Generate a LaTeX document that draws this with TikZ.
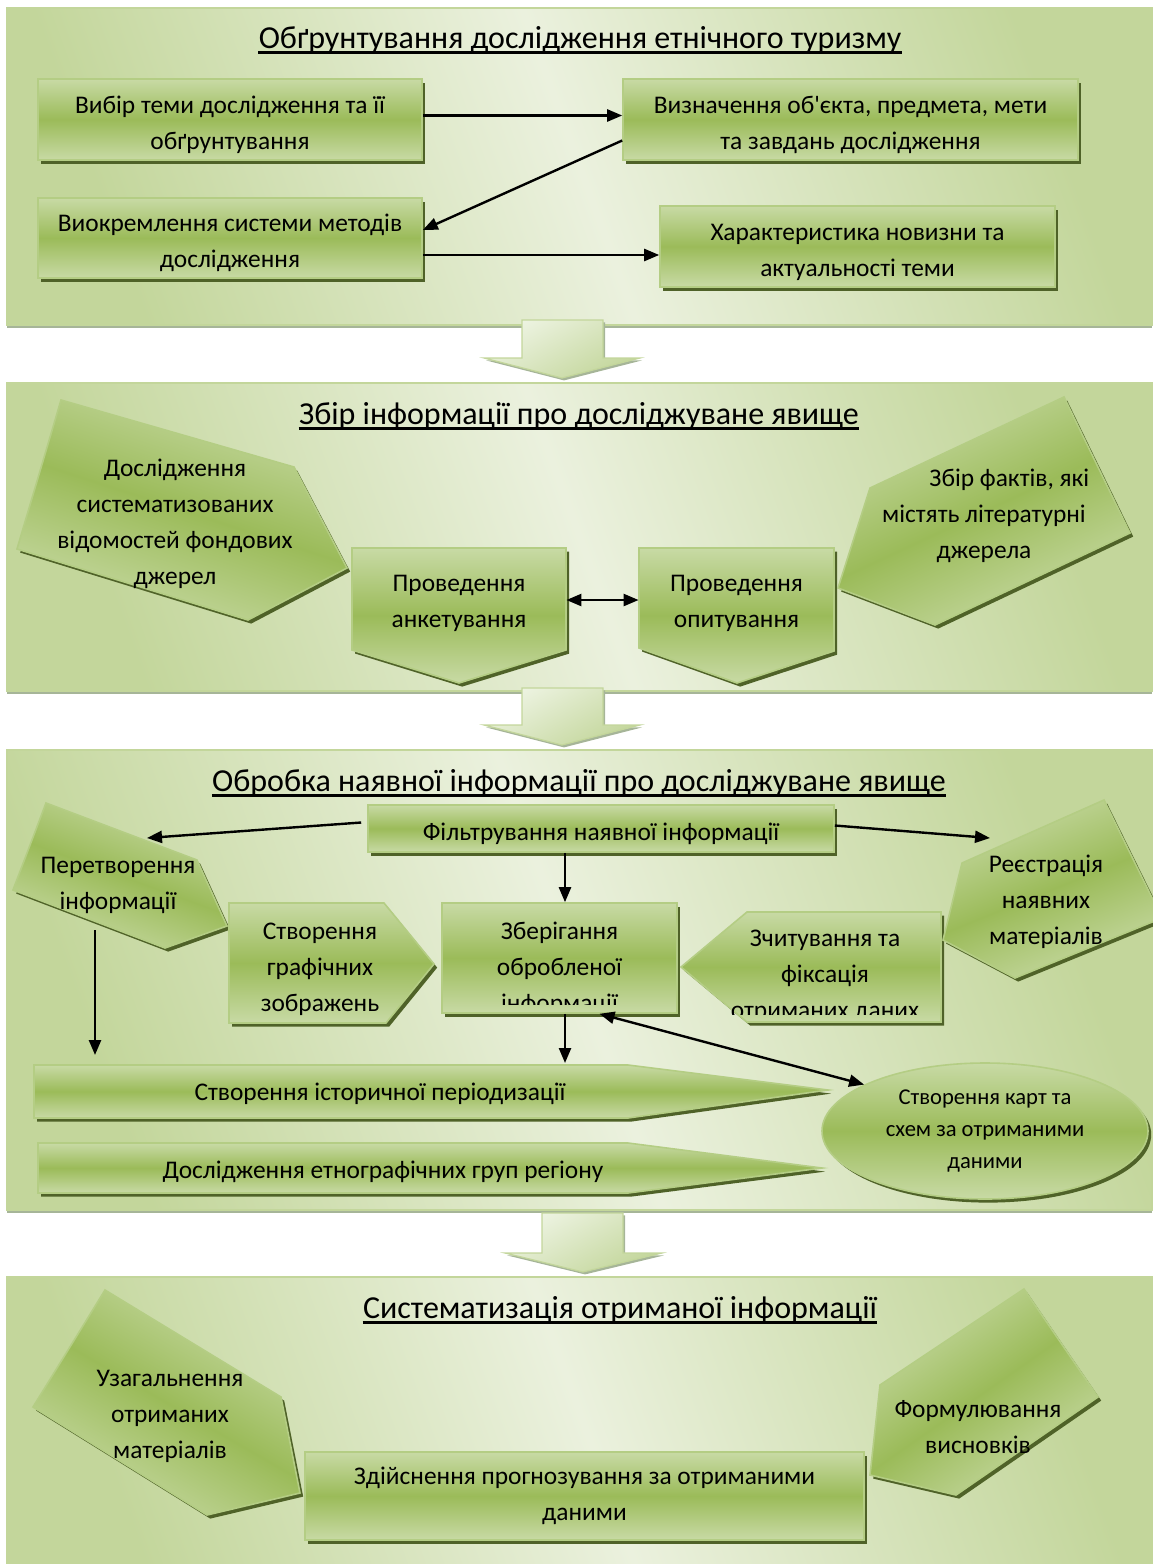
\documentclass[tikz,border=0pt]{standalone}
\usepackage{fontspec}
\setmainfont{Carlito}
\newfontfamily\plainfont{Carlito}[Ligatures=TeXOff]
\usetikzlibrary{arrows.meta}
\usetikzlibrary{shadows}
\usetikzlibrary{shapes.geometric}
\definecolor{gtop}{HTML}{C8DAA5}
\definecolor{gmid}{HTML}{9BBB59}
\definecolor{gline}{HTML}{B4CD84}
\definecolor{gshadow}{HTML}{4F6228}
\definecolor{panelA}{HTML}{C3D69B}
\definecolor{panelB}{HTML}{EBF1DE}
\definecolor{panelshadow}{HTML}{A6B598}
\definecolor{gpale}{HTML}{EEF4E3}
\newcommand\lowr{\rule{0pt}{13.8pt}}
\newcommand\apos{{\plainfont'}}
\tikzset{green box/.style={draw=gline,line width=.8pt,
    top color=gtop,bottom color=gtop,middle color=gmid,shading angle=#1,
    drop shadow={shadow xshift=1.6pt,shadow yshift=-1.8pt,fill=gshadow,opacity=1}},
  green box/.default=0}
\tikzset{panel/.style={draw=panelA,line width=1pt,
    top color=panelA,bottom color=panelA,middle color=panelB,shading angle=-70,
    drop shadow={shadow xshift=0pt,shadow yshift=-1.6pt,fill=panelshadow,opacity=1}}}
\tikzset{step arrow/.style={draw=panelA,line width=.6pt,
    top color=gpale,bottom color=panelA,shading angle=30,
    drop shadow={shadow xshift=1pt,shadow yshift=-1.2pt,fill=panelshadow,opacity=1}}}
\tikzset{box text/.style={align=center,inner sep=0pt,
    font=\fontsize{12.7}{18}\selectfont}}
\tikzset{shape text/.style={box text,yshift=-1.5pt}}
\tikzset{heading/.style={inner sep=0pt,font=\fontsize{16}{18}\selectfont}}
\tikzset{link/.style={line width=1.2pt,-{Triangle[length=7.5pt,width=6pt]}}}
\tikzset{both link/.style={line width=1.2pt,
    {Triangle[length=7.5pt,width=6pt]}-{Triangle[length=7.5pt,width=6pt]}}}

\begin{document}
\begin{tikzpicture}[x=0.5pt,y=-0.5pt]
  \useasboundingbox (0,0) rectangle (1152,1564);
  % panels
  \path[panel] (7,8) rectangle (1152,325);
  \path[panel] (7,383) rectangle (1152,691);
  \path[panel] (7,750) rectangle (1152,1210);
  \path[panel] (7,1277) rectangle (1160,1570);
  % arrows between the stages
  \path[step arrow] (522,320) -- (603,320) -- (603,358) -- (640,358)
    -- (562,378) -- (484,358) -- (522,358) -- cycle;
  \path[step arrow] (522,688) -- (603,688) -- (603,725) -- (640,725)
    -- (562,745) -- (484,725) -- (522,725) -- cycle;
  \path[step arrow] (542,1213) -- (623,1213) -- (623,1253) -- (662,1253)
    -- (583,1272) -- (505,1253) -- (542,1253) -- cycle;

  % stage 1
  \node[heading] (t1) at (580,40) {Обґрунтування дослідження етнічного туризму};
  \draw[line width=1.2pt] ([yshift=-2pt]t1.base west) -- ([yshift=-2pt]t1.base east);
  \node[green box,box text,minimum width=192pt,minimum height=40.5pt] (vybir)
    at (230,119.5) {\lowr Вибір теми дослідження та її\\обґрунтування};
  \node[green box,box text,minimum width=227.5pt,minimum height=40.5pt] (vyzn)
    at (850.5,119.5) {\lowr Визначення об\apos єкта, предмета, мети\\та завдань дослідження};
  \node[green box,box text,minimum width=192pt,minimum height=40pt] (metody)
    at (230,238) {\lowr Виокремлення системи методів\\дослідження};
  \node[green box,box text,minimum width=197.5pt,minimum height=40.5pt] (novyzna)
    at (857.5,246.5) {\lowr Характеристика новизни та\\актуальності теми};
  \draw[link] ([yshift=2pt]vybir.east) -- ([yshift=2pt]vybir.east -| vyzn.west);
  \draw[link] ([yshift=-10.5pt]vyzn.west) -- ([yshift=4pt]metody.east);
  \draw[link] ([yshift=-8.5pt]metody.east) -- ([yshift=-8.5pt]metody.east -| novyzna.west);

  % stage 2
  \node[heading] (t2) at (579,416) {Збір інформації про досліджуване явище};
  \draw[line width=1.2pt] ([yshift=-2pt]t2.base west) -- ([yshift=-2pt]t2.base east);
  \path[green box=-18] (61,400) -- (294,467) -- (347,568) -- (248,620) -- (17,549) -- cycle;
  \node[shape text] (fondy) at (175,521)
    {Дослідження\\систематизованих\\відомостей фондових\\джерел};
  \path[green box] (352,548) -- (566,548) -- (566,650) -- (459,683) -- (352,650) -- cycle;
  \node[shape text,minimum width=107pt] (anketa) at (459,600) {Проведення\\анкетування};
  \path[green box] (639,548) -- (834,548) -- (834,651) -- (737,683) -- (639,648) -- cycle;
  \node[shape text,minimum width=97.5pt] (opytuv) at (736.5,600) {Проведення\\опитування};
  \path[green box=25] (1064,397) -- (1130,533) -- (935,625) -- (838,588) -- (870,488) -- cycle;
  \node[shape text] (fakty) at (984,513) {\hspace*{2em}Збір фактів, які\\містять літературні\\джерела};
  \draw[both link] ([yshift=1.5pt]anketa.east) -- ([yshift=1.5pt]opytuv.west);

  % stage 3
  \node[heading] (t3) at (579,783) {Обробка наявної інформації про досліджуване явище};
  \draw[line width=1.2pt] ([yshift=-2pt]t3.base west) -- ([yshift=-2pt]t3.base east);
  \node[green box,box text,minimum width=233pt,minimum height=23.5pt] (filtr)
    at (601,828.5) {\lowr Фільтрування наявної інформації};
  \path[green box=-20] (46,803) -- (197,860) -- (227,926) -- (165,948) -- (13,890) -- cycle;
  \node[shape text] (peretv) at (118,882) {Перетворення\\інформації};
  \path[green box] (229,903) -- (384,903) -- (434,964) -- (386,1023) -- (229,1023) -- cycle;
  \node[shape text] (grafika) at (320,966) {Створення\\графічних\\зображень};
  \node[green box,minimum width=117.5pt,minimum height=55pt] (zberig) at (559.5,958) {};
  \begin{scope}
    \clip (442,903) rectangle (677,1004);
    \node[shape text] (zberig text) at (559.5,966) {Зберігання\\обробленої\\інформації};
  \end{scope}
  \path[green box] (681,967) -- (747,912) -- (941,912) -- (941,1022) -- (747,1022) -- cycle;
  \begin{scope}
    \clip (681,912) rectangle (941,1014);
    \node[shape text] (zchyt) at (825,973) {Зчитування та\\фіксація\\отриманих даних};
  \end{scope}
  \path[green box=22] (1104,800) -- (1162,918) -- (1015,978) -- (943,940) -- (962,863) -- cycle;
  \node[shape text] (reiestr) at (1046,899) {Реєстрація\\наявних\\матеріалів};
  \path[green box] (34,1065) -- (628,1065) -- (828,1090) -- (628,1118) -- (34,1118) -- cycle;
  \node[shape text] (istor) at (380,1091) {Створення історичної періодизації};
  \path[green box] (38,1143) -- (628,1143) -- (822,1168) -- (628,1193) -- (38,1193) -- cycle;
  \node[shape text] (etno) at (383,1169) {Дослідження етнографічних груп регіону};
  \node[green box,ellipse,align=center,inner sep=0pt,minimum width=163pt,minimum height=68pt,
    font=\fontsize{11.3}{16}\selectfont] (karty) at (985,1131)
    {Створення карт та\\схем за отриманими\\даними};
  \coordinate (peretv in) at (147,838);
  \coordinate (reiestr in) at (990,838);
  \coordinate (peretv out) at (95,930);
  \coordinate (istor top) at (95,1055);
  \coordinate (istor in) at (565,1063);
  \draw[link] ([xshift=-3pt,yshift=3pt]filtr.west) -- (peretv in);
  \draw[link] ([yshift=1.5pt]filtr.east) -- (reiestr in);
  \draw[link] (zberig.north |- filtr.south) ++(2.75pt,0) -- ([xshift=2.75pt]zberig.north);
  \draw[link] (peretv out) -- (istor top);
  \draw[link] (istor in |- zberig.south) -- (istor in);
  \draw[both link] ([xshift=20pt]zberig.south) -- (karty.159);

  % stage 4
  \node[heading] (t4) at (620,1310) {Систематизація отриманої інформації};
  \draw[line width=1.2pt] ([yshift=-2pt]t4.base west) -- ([yshift=-2pt]t4.base east);
  \path[green box=-30] (105,1290) -- (281,1397) -- (300,1493) -- (207,1515) -- (33,1407) -- cycle;
  \node[shape text] (uzag) at (170,1413) {Узагальнення\\отриманих\\матеріалів};
  \node[green box,box text,minimum width=279.5pt,minimum height=44pt] (prognoz)
    at (584.5,1496) {Здійснення прогнозування за отриманими\\даними};
  \path[green box=35] (1024,1289) -- (1098,1397) -- (956,1495) -- (870,1475) -- (880,1385) -- cycle;
  \node[shape text] (vysnovky) at (978,1424) {Формулювання\\висновків};
\end{tikzpicture}
\end{document}
